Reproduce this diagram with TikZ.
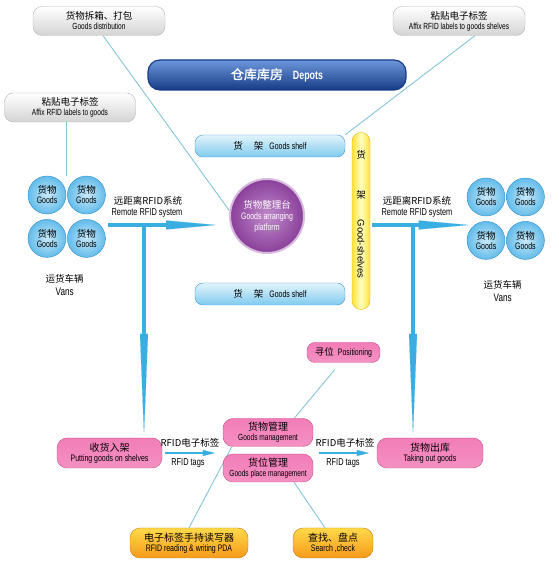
\documentclass[tikz,border=0pt]{standalone}
\usepackage{fontspec}
\setmainfont[FakeStretch=0.74]{Liberation Sans}
\newfontfamily\plainsf{Liberation Sans}
\newfontfamily\zh{Noto Sans CJK SC}
\newfontfamily\zhbf[FakeBold=1.5]{Noto Sans CJK SC}
\usetikzlibrary{arrows.meta, positioning, fit, backgrounds}
\definecolor{lnBlue}{HTML}{3AAEE0}
\definecolor{thinLn}{HTML}{86C5D8}
\definecolor{greyEdge}{HTML}{B4B4B4}
\definecolor{depTop}{HTML}{6D97DB}
\definecolor{depMid}{HTML}{2358B0}
\definecolor{depDark}{HTML}{163B85}
\definecolor{shelfEdge}{HTML}{3C9AD2}
\definecolor{shelfFill}{HTML}{7FCBEF}
\definecolor{shelfTopc}{HTML}{E2F4FC}
\definecolor{ylwFill}{HTML}{FFE23A}
\definecolor{ylwEdge}{HTML}{E8B800}
\definecolor{plum}{HTML}{8A3F9A}
\definecolor{plumL}{HTML}{C08ACB}
\definecolor{plumRing}{HTML}{D8BCDE}
\definecolor{gdsFill}{HTML}{62BCEA}
\definecolor{gdsEdge}{HTML}{2F8CCB}
\definecolor{pinkEdge}{HTML}{C8508E}
\definecolor{pinkFill}{HTML}{F27DB8}
\definecolor{pinkLt}{HTML}{FCE0EE}
\definecolor{orgEdge}{HTML}{C97A12}
\definecolor{orgFill}{HTML}{F59A1A}
\definecolor{orgLt}{HTML}{FFD94A}
\newcommand{\cn}[1]{{\zh\fontsize{9.5}{11}\selectfont #1}}
\newcommand{\cnb}[1]{{\zh\fontsize{10}{11.5}\selectfont #1}}

\begin{document}
\begin{tikzpicture}[x=1pt, y=1pt, font=\fontsize{8.9}{10}\selectfont,
        grey/.style={draw=greyEdge, top color=white, bottom color=black!17, rounded corners=9pt, minimum width=132pt, minimum height=29pt, align=center, inner sep=1pt},
        depot/.style={draw=depDark, line width=1.2pt, top color=depTop, middle color=depMid, bottom color=depDark, rounded corners=12pt, minimum width=258pt, minimum height=30pt, text=white},
        shelf/.style={draw=shelfEdge, top color=shelfTopc, bottom color=shelfFill, rounded corners=8pt, minimum width=150pt, minimum height=22pt, inner sep=1pt, font=\fontsize{9.4}{10}\selectfont},
        bar/.style={draw=ylwEdge, left color=ylwFill, right color=ylwFill, middle color=yellow!25!white, rounded corners=9pt, minimum width=18pt, minimum height=177pt},
        plat/.style={circle, draw=plumRing, line width=2pt, inner color=plumL, outer color=plum, minimum size=74pt, inner sep=0pt, align=center, text=white, font=\fontsize{9.4}{11}\selectfont},
        goods/.style={circle, draw=gdsEdge, inner color=gdsFill!35!white, outer color=gdsFill, minimum size=38pt, inner sep=0pt, align=center, font=\fontsize{9.4}{10}\selectfont},
        task/.style={draw=pinkEdge, top color=pinkFill, middle color=pinkLt, bottom color=pinkFill!85, rounded corners=10pt, minimum width=105pt, minimum height=30pt, align=center, inner sep=1pt, font=\fontsize{9.4}{10}\selectfont},
        tool/.style={draw=orgEdge, top color=orgLt, bottom color=orgFill, rounded corners=10pt, minimum width=118pt, minimum height=30pt, align=center, inner sep=1pt, font=\fontsize{9.4}{10}\selectfont},
        wide/.style={-{Triangle[length=50pt, width=9pt, line width=0.1pt]}, lnBlue, line width=4.5pt},
        tall/.style={-{Triangle[length=100pt, width=8pt, line width=0.1pt]}, lnBlue, line width=4pt},
        rfid/.style={-{Triangle[length=12pt, width=6pt, line width=0.1pt]}, lnBlue, line width=2.5pt},
        link/.style={thinLn, line width=0.9pt},
        lbl/.style={inner sep=0pt, font=\fontsize{10}{11}\selectfont}]
        \useasboundingbox (0,0) rectangle (558,564);
        % top boxes
        \node[grey] (dist) at (99,543) {\cn{货物拆箱、打包}\\Goods distribution};
        \node[grey] (tagShelf) at (459,543) {\cn{粘贴电子标签}\\Affix RFID labels to goods shelves};
        \node[depot] (depot) at (277,489) {{\zhbf\fontsize{13}{14}\selectfont 仓库库房}\hspace{10pt}{\fontsize{12}{13}\selectfont\bfseries Depots}};
        \node[grey, minimum width=131pt] (tagGoods) at (70,456.5) {\cn{粘贴电子标签}\\Affix RFID labels to goods};
        % shelves and platform
        \node[shelf] (shelfT) at (270,418) {\cn{货\hspace{11pt}架}\hspace{6pt}Goods shelf};
        \node[shelf] (shelfB) at (270,270) {\cn{货\hspace{11pt}架}\hspace{6pt}Goods shelf};
        \node[bar] (bar) at (361,343) {};
        \node[inner sep=0pt] (barA) at (361,409) {\cn{货}};
        \node[inner sep=0pt] (barB) at (361,369) {\cn{架}};
        \node[inner sep=0pt, rotate=-90, font=\plainsf\fontsize{9.5}{10}\selectfont] (barC) at (361,315) {Good-shelves};
        \node[plat] (plat) at (267,348) {\cn{货物整理台}\\Goods arranging\\platform};
        % vans
        \node[goods] (gL1) at (47,369) {\cn{货物}\\Goods};
        \node[goods, right=1pt of gL1] (gL2) {\cn{货物}\\Goods};
        \node[goods, below=5pt of gL1] (gL3) {\cn{货物}\\Goods};
        \node[goods, right=1pt of gL3] (gL4) {\cn{货物}\\Goods};
        \node[fit=(gL1)(gL2)(gL3)(gL4), inner sep=0pt] (vanL) {};
        \node[below=13pt of vanL, xshift=-2pt, align=center] (vanLtxt) {\cn{运货车辆}\\[3pt]{\fontsize{11}{12}\selectfont Vans}};
        \node[goods] (gR1) at (486,367) {\cn{货物}\\Goods};
        \node[goods, right=1pt of gR1] (gR2) {\cn{货物}\\Goods};
        \node[goods, below=5pt of gR1] (gR3) {\cn{货物}\\Goods};
        \node[goods, right=1pt of gR3] (gR4) {\cn{货物}\\Goods};
        \node[fit=(gR1)(gR2)(gR3)(gR4), inner sep=0pt] (vanR) {};
        \node[below=17pt of vanR, xshift=-3pt, align=center] (vanRtxt) {\cn{运货车辆}\\[3pt]{\fontsize{11}{12}\selectfont Vans}};
        % management
        \node[task] (recv) at (109.5,111) {\cnb{收货入架}\\Putting goods on shelves};
        \node[task, minimum width=90pt, minimum height=28pt, font=\fontsize{8.9}{10}\selectfont] (gMgmt) at (268,131.5) {\cnb{货物管理}\\Goods management};
        \node[task, minimum width=90pt, minimum height=28pt, font=\fontsize{8.9}{10}\selectfont] (gPlace) at (268,96) {\cnb{货位管理}\\Goods place management};
        \node[task, minimum width=106pt] (takeout) at (430,111) {\cnb{货物出库}\\Taking out goods};
        \node[task, minimum width=73pt, minimum height=20pt, rounded corners=8pt] (pos) at (343.5,211.5) {\cn{寻位}\hspace{4pt}Positioning};
        \node[tool] (pda) at (189,21) {\cnb{电子标签手持读写器}\\RFID reading \& writing PDA};
        \node[tool, minimum width=80pt] (search) at (333,21) {\cnb{查找、盘点}\\Search ,check};
        % thin links
        \begin{scope}[on background layer]
          \draw[link] ([xshift=4pt]dist.south) -- (plat.172);
          \draw[link] ([xshift=16pt]tagShelf.south) -- (shelfT.north east);
          \draw[link] (tagGoods.south -| vanL.north) -- (vanL.north);
          \draw[link, shorten <=9pt] ([xshift=-3pt]pos.south) -- ([xshift=-19pt]gMgmt.north east);
          \draw[link] (pda.north) -- ([xshift=9pt]gMgmt.south west);
          \draw[link] ([xshift=-8pt]search.north) -- ([xshift=26pt]gPlace.south);
        \end{scope}
        % RFID arrows
        \coordinate (jL) at (144,339);
        \coordinate (jR) at (413,339);
        \draw[wide] ([xshift=2pt]vanL.east |- jL) -- ([xshift=-13pt]plat.west |- jL);
        \draw[wide] ([xshift=2pt]bar.east |- jR) -- ([xshift=2pt]vanR.west |- jR);
        \node[lbl] (remA1) at (148,363) {\cn{远距离RFID系统}};
        \node[lbl] (remA2) at (147,351) {Remote RFID system};
        \node[lbl] (remB1) at (417,363) {\cn{远距离RFID系统}};
        \node[lbl] (remB2) at (417,351) {Remote RFID system};
        \draw[tall] ([yshift=2pt]jL) -- ([yshift=4pt]jL |- recv.north);
        \draw[tall] ([yshift=2pt]jR) -- ([yshift=4pt]jR |- takeout.north);
        \draw[rfid] ([xshift=3pt]recv.east) -- ([xshift=-8pt]gMgmt.west |- recv.east);
        \draw[rfid] ([xshift=6pt]gMgmt.east |- takeout.west) -- ([xshift=-8pt]takeout.west);
        \node[lbl] (tagA1) at (190,121) {\cn{RFID电子标签}};
        \node[lbl] (tagA2) at (188,101) {RFID tags};
        \node[lbl] (tagB1) at (345,121) {\cn{RFID电子标签}};
        \node[lbl] (tagB2) at (343,101) {RFID tags};
      \end{tikzpicture}
\end{document}
